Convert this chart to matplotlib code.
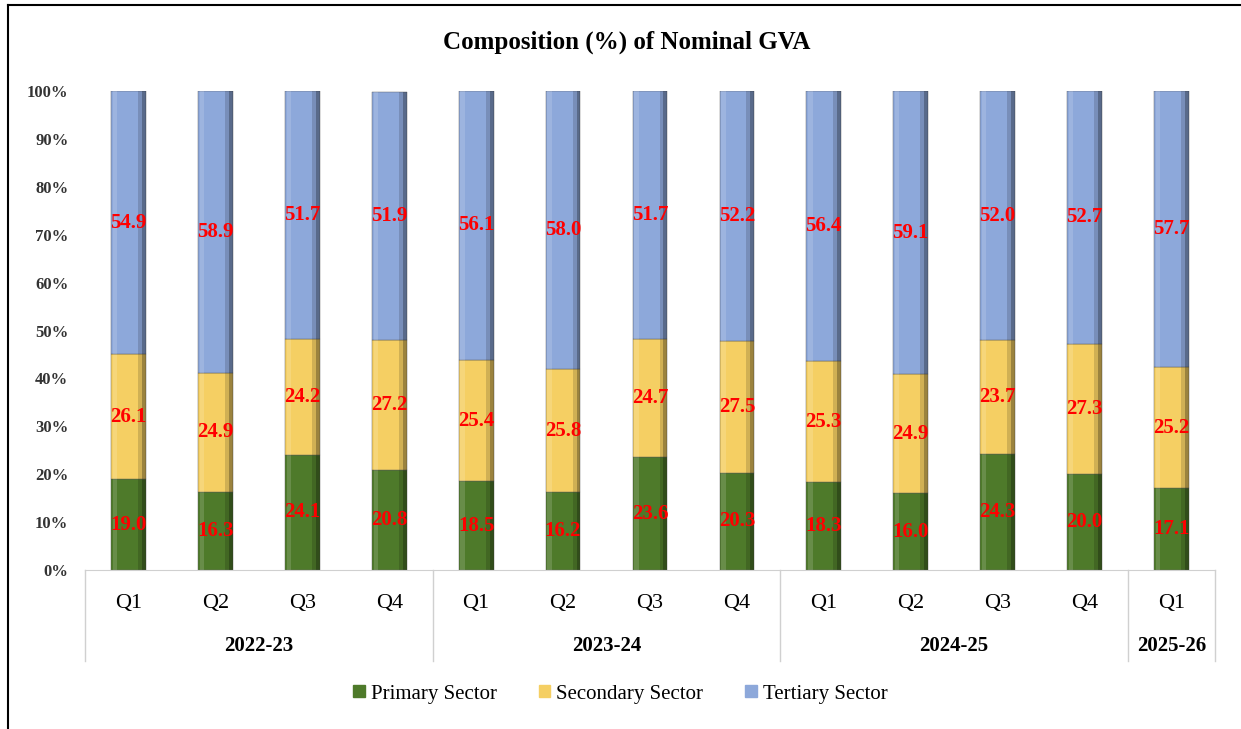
import matplotlib.pyplot as plt
import numpy as np
from matplotlib.lines import Line2D

# data
quarters = ['Q1', 'Q2', 'Q3', 'Q4', 'Q1', 'Q2', 'Q3', 'Q4', 'Q1', 'Q2', 'Q3', 'Q4', 'Q1']
years = ['2022-23', '2023-24', '2024-25', '2025-26']
year_counts = [4, 4, 4, 1]
primary = [19.0, 16.3, 24.1, 20.8, 18.5, 16.2, 23.6, 20.3, 18.3, 16.0, 24.3, 20.0, 17.1]
secondary = [26.1, 24.9, 24.2, 27.2, 25.4, 25.8, 24.7, 27.5, 25.3, 24.9, 23.7, 27.3, 25.2]
tertiary = [54.9, 58.9, 51.7, 51.9, 56.1, 58.0, 51.7, 52.2, 56.4, 59.1, 52.0, 52.7, 57.7]

plt.rcParams['font.family'] = ['Liberation Serif', 'DejaVu Serif']

fig = plt.figure(figsize=(12.41, 7.29), dpi=100)
ax = fig.add_axes([0.0685, 0.218, 0.9105, 0.657])

x = np.arange(len(quarters))
w = 0.4
cols = ['#4E7A2A', '#F5CF63', '#8DA8DA']
names = ['Primary Sector', 'Secondary Sector', 'Tertiary Sector']
bottom = np.zeros(len(x))
for vals, c, nm in zip([primary, secondary, tertiary], cols, names):
    vals = np.array(vals)
    ax.bar(x, vals, w, bottom=bottom, color=c, edgecolor='#555555', linewidth=0.3, label=nm)
    # rough bevel look: darker strips on the right, light strip on the left
    ax.bar(x + w / 2 - 0.09, vals, 0.09, bottom=bottom, align='edge', color='black', alpha=0.15, lw=0)
    ax.bar(x + w / 2 - 0.045, vals, 0.045, bottom=bottom, align='edge', color='black', alpha=0.25, lw=0)
    ax.bar(x - w / 2 + 0.02, vals, 0.05, bottom=bottom, align='edge', color='white', alpha=0.15, lw=0)
    for xi, b, v in zip(x, bottom, vals):
        ax.text(xi, b + v / 2, f'{v:.1f}', ha='center', va='center', color='red',
                fontsize=15, fontweight='bold')
    bottom = bottom + vals

ax.set_xlim(-0.5, len(x) - 0.5)
ax.set_ylim(0, 100)
ax.set_yticks(range(0, 101, 10))
ax.set_yticklabels([f'{t}%' for t in range(0, 101, 10)], fontsize=12, fontweight='bold',
                   color='#333333')
ax.tick_params(axis='y', length=0, pad=12)
ax.set_xticks([])
for s in ['top', 'right', 'left']:
    ax.spines[s].set_visible(False)
ax.spines['bottom'].set_color('#d0d0d0')

# two level category axis
for xi, q in zip(x, quarters):
    ax.text(xi, -7, q, ha='center', va='center', fontsize=16, clip_on=False)
start = -0.5
ax.plot([start, start], [0, -19], color='#d0d0d0', lw=1, clip_on=False)
for yr, n in zip(years, year_counts):
    end = start + n
    ax.plot([end, end], [0, -19], color='#d0d0d0', lw=1, clip_on=False)
    ax.text((start + end) / 2, -15.8, yr, ha='center', va='center', fontsize=15,
            fontweight='bold', clip_on=False)
    start = end

fig.text(0.505, 0.942, 'Composition (%) of Nominal GVA', ha='center', va='center',
         fontsize=18, fontweight='bold')
handles = [plt.Rectangle((0, 0), 1, 1, color=c) for c in cols]
fig.legend(handles, names, loc='center', bbox_to_anchor=(0.5, 0.048), ncol=3, frameon=False,
           fontsize=15, handlelength=0.55, handleheight=0.55, columnspacing=2.0, handletextpad=0.3)

# frame lines (top and left only, as in the reference)
fig.add_artist(Line2D([0.0065, 0.0065], [0, 0.993], transform=fig.transFigure, color='black', lw=1.5))
fig.add_artist(Line2D([0.0065, 1.0], [0.993, 0.993], transform=fig.transFigure, color='black', lw=1.5))

fig.savefig('out.png', dpi=100)
